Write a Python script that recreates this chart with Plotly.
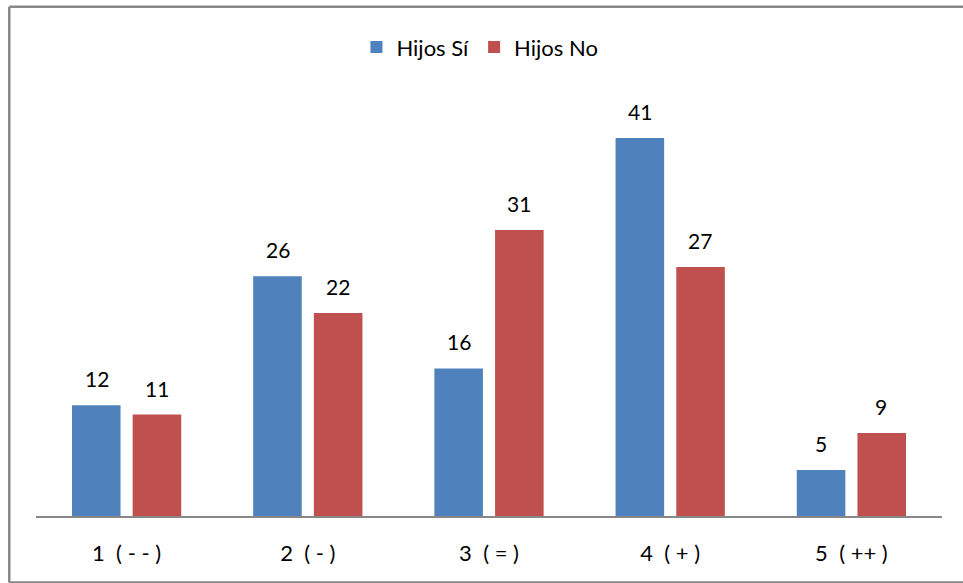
import plotly.graph_objects as go

categories = ["1  ( - - )", "2  ( - )", "3  ( = )", "4  ( + )", "5  ( ++ )"]
hijos_si = [12, 26, 16, 41, 5]
hijos_no = [11, 22, 31, 27, 9]
series_names = ["Hijos Sí", "Hijos No"]
colors = ["#4F81BD", "#C0504D"]

FONT = "Lato, 'Open Sans', sans-serif"

fig = go.Figure()
for name, vals, col in zip(series_names, [hijos_si, hijos_no], colors):
    fig.add_trace(go.Bar(x=categories, y=vals, name=name, marker_color=col,
                         marker_line_width=0))

annotations = []
for vals, xs in [(hijos_si, -30), (hijos_no, 30)]:
    for c, v in zip(categories, vals):
        annotations.append(dict(x=c, y=v, text=str(v), showarrow=False,
                                xshift=xs, yanchor="bottom", yshift=12,
                                font=dict(family=FONT, size=21, color="#000")))

border = dict(color="#888", width=2.5)
fig.update_layout(
    width=963, height=583,
    margin=dict(l=36, r=21, t=101, b=67),
    paper_bgcolor="white", plot_bgcolor="white",
    barmode="group", bargap=0.33, bargroupgap=0.2,
    font=dict(family=FONT, size=21, color="#000"),
    showlegend=True,
    legend=dict(orientation="h", x=0.49, xanchor="center", y=0.919, yanchor="middle",
                yref="container", font=dict(family=FONT, size=22),
                bgcolor="rgba(0,0,0,0)", itemwidth=30, traceorder="normal"),
    xaxis=dict(showline=True, linecolor="#888", linewidth=1.5,
               ticks="outside", ticklen=17, tickcolor="rgba(0,0,0,0)",
               tickfont=dict(family=FONT, size=22), showgrid=False),
    yaxis=dict(range=[0, 45], visible=False, showgrid=False, zeroline=False),
    annotations=annotations,
    shapes=[
        dict(type="line", xref="paper", yref="paper", x0=-0.0295, x1=1.03, y0=1.227, y1=1.227, line=border),
        dict(type="line", xref="paper", yref="paper", x0=-0.0295, x1=-0.0295, y0=-0.16, y1=1.227, line=border),
        dict(type="line", xref="paper", yref="paper", x0=-0.0295, x1=1.03, y0=-0.16, y1=-0.16, line=border),
    ],
)
fig.write_html("out.html")
